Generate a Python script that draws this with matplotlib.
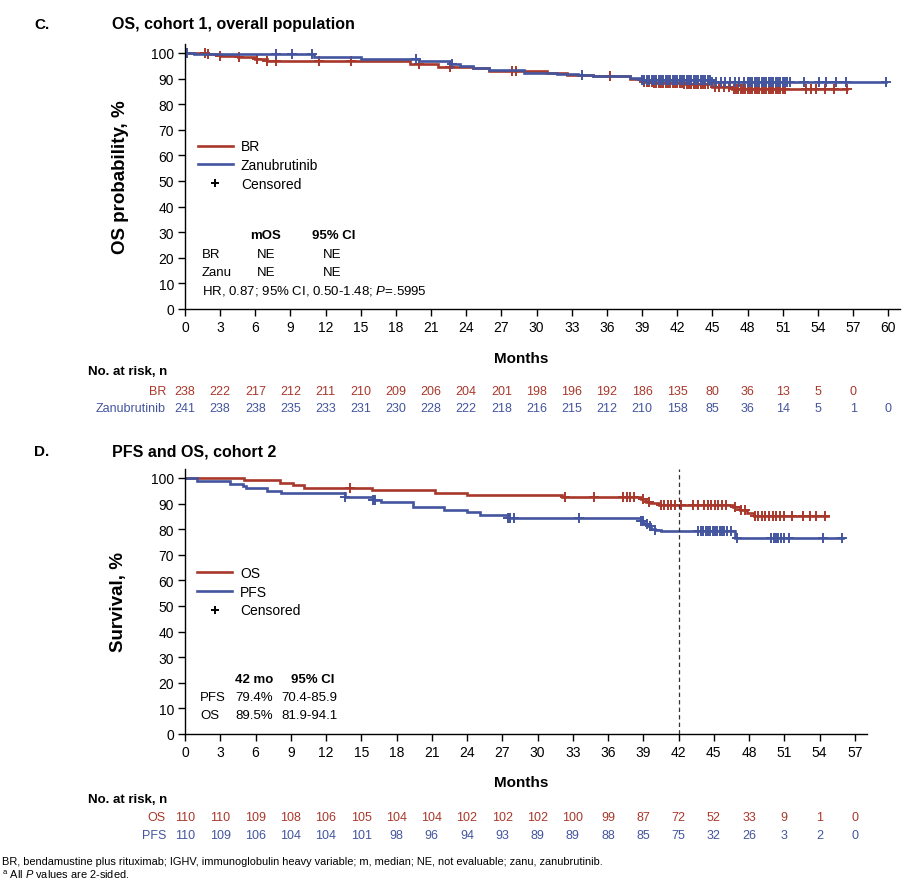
import numpy as np
import matplotlib
matplotlib.use('Agg')
import matplotlib.pyplot as plt
from matplotlib.lines import Line2D
from matplotlib import transforms

plt.rcParams['font.family'] = ['Liberation Sans', 'DejaVu Sans']
plt.rcParams['mathtext.fontset'] = 'custom'
plt.rcParams['mathtext.rm'] = 'Liberation Sans'
plt.rcParams['mathtext.it'] = 'Liberation Sans:italic'
plt.rcParams['mathtext.bf'] = 'Liberation Sans:bold'

RED = '#A8382B'
BLUE = '#43559E'

# ---- panel C: OS cohort 1 ----
br_t = [0, 1.8, 3.0, 4.5, 6.0, 7.0, 19.2, 21.6, 24.6, 25.9, 30.9, 32.6, 34.8, 38.0, 39.0, 40.0, 42.6, 45.0, 46.7]
br_s = [100, 99.5, 99.0, 98.4, 97.8, 96.7, 95.8, 94.6, 94.0, 93.0, 92.0, 91.5, 90.9, 90.0, 88.8, 88.3, 87.8, 86.8, 85.8]
br_end = 56.5
br_cens = [0.1, 1.7, 2.0, 3.0, 4.6, 6.1, 7.0, 7.8, 11.4, 14.2, 20.0, 22.6, 27.9, 28.2, 36.3,
           39.2, 39.4, 39.6, 39.8, 40.0, 40.2, 40.4, 40.6, 40.8, 41.0, 41.2, 41.4, 41.6, 41.8,
           42.0, 42.2, 42.4, 42.6, 42.8, 43.0, 43.2, 43.4, 43.6, 43.8, 44.0, 44.2, 44.4, 44.6,
           45.2, 45.6, 46.0, 46.4, 46.8, 47.0, 47.2, 47.4, 47.6, 47.8, 48.0, 48.2, 48.4, 48.6,
           48.8, 49.0, 49.2, 49.4, 49.6, 49.8, 50.0, 50.2, 50.4, 50.6, 50.8, 51.0, 51.2,
           53.0, 53.4, 53.8, 54.6, 55.4, 56.5]

zanu_t = [0, 0.8, 11.0, 15.0, 20.0, 22.7, 23.5, 24.6, 25.9, 28.9, 31.7, 33.5, 34.8, 38.0, 39.0, 45.0]
zanu_s = [100, 99.4, 98.4, 97.5, 96.8, 95.8, 94.9, 94.2, 93.2, 92.2, 91.7, 91.3, 90.9, 90.2, 89.6, 88.7]
zanu_end = 59.8
zanu_cens = [0.15, 7.8, 9.1, 10.8, 19.7, 22.8, 33.9, 39.0, 39.2, 39.4, 39.6, 39.8, 40.0, 40.2,
             40.4, 40.6, 40.8, 41.0, 41.2, 41.4, 41.6, 41.8, 42.0, 42.2, 42.4, 42.6, 42.8, 43.0,
             43.2, 43.4, 43.6, 43.8, 44.0, 44.2, 44.4, 44.6, 44.8, 45.0, 45.3, 45.7, 46.1, 46.5,
             46.9, 47.3, 47.7, 48.0, 48.2, 48.4, 48.6, 48.8, 49.0, 49.2, 49.4, 49.6, 49.8, 50.0,
             50.2, 50.4, 50.6, 50.8, 51.0, 51.2, 51.4, 51.6, 52.8, 54.1, 54.7, 55.5, 56.4, 59.8]

risk_c_br = [238, 222, 217, 212, 211, 210, 209, 206, 204, 201, 198, 196, 192, 186, 135, 80, 36, 13, 5, 0]
risk_c_zanu = [241, 238, 238, 235, 233, 231, 230, 228, 222, 218, 216, 215, 212, 210, 158, 85, 36, 14, 5, 1, 0]

# ---- panel D: PFS and OS cohort 2 ----
os_t = [0, 5.0, 8.1, 9.2, 10.1, 15.9, 21.3, 24.0, 32.1, 38.8, 39.2, 39.7, 40.3, 46.6, 47.2, 47.8, 48.4]
os_s = [100, 99.1, 98.2, 97.2, 96.2, 95.2, 94.2, 93.4, 92.4, 91.6, 90.8, 90.1, 89.5, 88.5, 87.5, 86.4, 85.1]
os_end = 54.7
os_cens = [14.0, 32.3, 34.8, 37.3, 37.6, 37.9, 38.2, 39.0, 39.5, 40.5, 40.8, 41.1, 41.4, 41.7,
           42.2, 43.2, 43.7, 44.2, 44.5, 44.8, 45.1, 45.4, 45.7, 46.0, 46.8, 47.3, 47.7, 48.5,
           48.8, 49.1, 49.4, 49.7, 50.0, 50.3, 50.6, 51.0, 51.7, 52.6, 53.2, 53.7, 54.5]

pfs_t = [0, 1.0, 3.8, 4.96, 5.2, 6.95, 8.2, 13.6, 16.0, 16.7, 19.4, 22.0, 24.0, 25.1, 27.5,
         38.8, 39.1, 39.4, 39.7, 40.0, 40.5, 46.8]
pfs_s = [100, 98.9, 97.8, 96.8, 96.0, 95.0, 94.2, 92.4, 91.4, 90.5, 88.8, 87.6, 86.8, 85.7, 84.2,
         83.2, 82.2, 81.2, 80.2, 79.8, 79.4, 76.4]
pfs_end = 56.0
pfs_cens = [13.6, 16.0, 16.2, 27.5, 27.7, 28.0, 33.5, 38.8, 39.0, 39.3, 39.6, 40.0, 43.7, 43.9,
            44.1, 44.3, 44.5, 44.7, 44.9, 45.1, 45.3, 45.5, 45.7, 45.9, 46.1, 46.5, 47.0, 49.9,
            50.1, 50.3, 50.5, 50.7, 51.0, 51.4, 54.3, 55.9]

risk_d_os = [110, 110, 109, 108, 106, 105, 104, 104, 102, 102, 102, 100, 99, 87, 72, 52, 33, 9, 1, 0]
risk_d_pfs = [110, 109, 106, 104, 104, 101, 98, 96, 94, 93, 89, 89, 88, 85, 75, 32, 26, 3, 2, 0]

W, H = 917, 895
fig = plt.figure(figsize=(W / 100, H / 100), dpi=100)


def fx(px):
    return px / W


def fy(py):
    return 1 - py / H


def km(ax, t, s, end, cens, color):
    t = np.array(t, float)
    s = np.array(s, float)
    ax.step(np.append(t, end), np.append(s, s[-1]), where='post', color=color, lw=1.9,
            solid_joinstyle='miter')
    c = np.array(cens, float)
    idx = np.searchsorted(t, c, side='right') - 1
    ax.plot(c, s[idx], ls='none', marker='+', ms=7, mew=1.4, color=color)


def style(ax, xmax):
    for sp in ['top', 'right']:
        ax.spines[sp].set_visible(False)
    ax.spines['left'].set_linewidth(1.0)
    ax.spines['bottom'].set_linewidth(1.0)
    ax.set_ylim(0, 103.5)
    ax.set_xlim(0, xmax)
    ax.set_yticks(range(0, 101, 10))
    ax.tick_params(direction='out', length=5, width=1, labelsize=10, pad=3)


def legend(ax, labels, top):
    handles = [Line2D([], [], color=RED, lw=1.9), Line2D([], [], color=BLUE, lw=1.9),
               Line2D([], [], color='black', ls='none', marker='+', ms=6, mew=1.4)]
    ax.legend(handles, labels, loc='upper left', bbox_to_anchor=(0.018, top), frameon=False,
              fontsize=10, handlelength=2.5, handletextpad=0.6, labelspacing=0.33,
              borderaxespad=0, borderpad=0)


risk_font = ['Liberation Sans Narrow', 'Liberation Sans']

# panel C
axc = fig.add_axes([fx(185), fy(310), fx(715), 265 / H])
km(axc, br_t, br_s, br_end, br_cens, RED)
km(axc, zanu_t, zanu_s, zanu_end, zanu_cens, BLUE)
style(axc, 61)
axc.set_xticks(range(0, 61, 3))
axc.set_ylabel('OS probability, %', fontsize=13.5, fontweight='bold')
axc.yaxis.set_label_coords(-0.078, 0.5)
axc.set_xlabel('Months', fontsize=11, fontweight='bold')
axc.xaxis.set_label_coords(0.47, -0.158)
legend(axc, ['BR', 'Zanubrutinib', 'Censored'], 0.64)

fig.text(fx(34), fy(25), 'C.', fontsize=11, fontweight='bold', va='center')
fig.text(fx(112), fy(25), 'OS, cohort 1, overall population', fontsize=11.5, fontweight='bold', va='center')

fig.text(fx(250), fy(236), 'mOS', fontsize=9.5, fontweight='bold', va='center')
fig.text(fx(312), fy(236), '95% CI', fontsize=9.5, fontweight='bold', va='center')
for py, lab in [(255, 'BR'), (273, 'Zanu')]:
    fig.text(fx(202), fy(py), lab, fontsize=9.5, va='center')
    fig.text(fx(257), fy(py), 'NE', fontsize=9.5, va='center')
    fig.text(fx(323), fy(py), 'NE', fontsize=9.5, va='center')
fig.text(fx(202), fy(291), r'HR, 0.87; 95% CI, 0.50-1.48; $\it{P}$=.5995', fontsize=9.5, va='center')

fig.text(fx(88), fy(372), 'No. at risk, n', fontsize=9.5, fontweight='bold', va='center',
         family=risk_font)
tc = transforms.blended_transform_factory(axc.transData, fig.transFigure)
fig.text(fx(166), fy(392), 'BR', fontsize=9, color=RED, ha='right', va='center', family=risk_font)
fig.text(fx(166), fy(409), 'Zanubrutinib', fontsize=9, color=BLUE, ha='right', va='center',
         family=risk_font)
for i, v in enumerate(risk_c_br):
    fig.text(3 * i, fy(392), str(v), transform=tc, fontsize=9, color=RED, ha='center',
             va='center', family=risk_font)
for i, v in enumerate(risk_c_zanu):
    fig.text(3 * i, fy(409), str(v), transform=tc, fontsize=9, color=BLUE, ha='center',
             va='center', family=risk_font)

# panel D
axd = fig.add_axes([fx(185), fy(735), 681.5 / W, 265 / H])
km(axd, os_t, os_s, os_end, os_cens, RED)
km(axd, pfs_t, pfs_s, pfs_end, pfs_cens, BLUE)
axd.axvline(42, color='#333333', lw=0.9, ls=(0, (3.5, 2.5)))
style(axd, 58)
axd.set_xticks(range(0, 58, 3))
axd.set_ylabel('Survival, %', fontsize=13.5, fontweight='bold')
axd.yaxis.set_label_coords(-0.085, 0.5)
axd.set_xlabel('Months', fontsize=11, fontweight='bold')
axd.xaxis.set_label_coords(0.493, -0.155)
legend(axd, ['OS', 'PFS', 'Censored'], 0.633)

fig.text(fx(34), fy(452), 'D.', fontsize=11, fontweight='bold', va='center')
fig.text(fx(112), fy(452), 'PFS and OS, cohort 2', fontsize=11.5, fontweight='bold', va='center')

fig.text(fx(235), fy(680), '42 mo', fontsize=9.5, fontweight='bold', va='center')
fig.text(fx(291), fy(680), '95% CI', fontsize=9.5, fontweight='bold', va='center')
for py, lab, v, ci in [(698, 'PFS', '79.4%', '70.4-85.9'), (716, 'OS', '89.5%', '81.9-94.1')]:
    fig.text(fx(200), fy(py), lab, fontsize=9.5, va='center')
    fig.text(fx(235), fy(py), v, fontsize=9.5, va='center')
    fig.text(fx(281), fy(py), ci, fontsize=9.5, va='center')

fig.text(fx(88), fy(800), 'No. at risk, n', fontsize=9.5, fontweight='bold', va='center',
         family=risk_font)
td = transforms.blended_transform_factory(axd.transData, fig.transFigure)
fig.text(fx(166), fy(818), 'OS', fontsize=9, color=RED, ha='right', va='center', family=risk_font)
fig.text(fx(166), fy(836), 'PFS', fontsize=9, color=BLUE, ha='right', va='center', family=risk_font)
for i, v in enumerate(risk_d_os):
    fig.text(3 * i, fy(818), str(v), transform=td, fontsize=9, color=RED, ha='center',
             va='center', family=risk_font)
for i, v in enumerate(risk_d_pfs):
    fig.text(3 * i, fy(836), str(v), transform=td, fontsize=9, color=BLUE, ha='center',
             va='center', family=risk_font)

fig.text(fx(2), fy(862), 'BR, bendamustine plus rituximab; IGHV, immunoglobulin heavy variable; '
         'm, median; NE, not evaluable; zanu, zanubrutinib.', fontsize=7.9, va='center')
fig.text(fx(2), fy(875), r'$^{\rm a}$ All $\it{P}$ values are 2-sided.', fontsize=7.9, va='center')

fig.savefig('out.png', dpi=100)
